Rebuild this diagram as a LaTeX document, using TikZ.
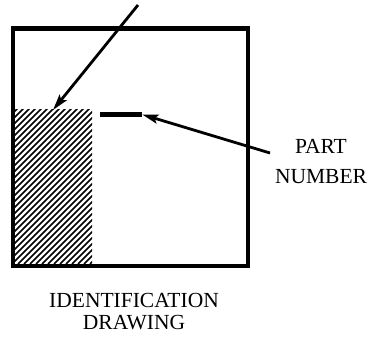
\documentclass[tikz,border=0pt]{standalone}
\usepackage{fontspec}
\setmainfont{Liberation Serif}
\usetikzlibrary{arrows.meta}
\begin{document}
\begin{tikzpicture}[x=1pt,y=-1pt,
  frame/.style={draw, line width=4.5pt, inner sep=0pt, minimum width=235pt, minimum height=237.5pt},
  leader/.style={line width=2.8pt, -{Stealth[length=16pt,width=9pt,inset=3pt]}},
  hatchline/.style={line width=1.6pt},
  bar/.style={fill, inner sep=0pt, minimum width=42pt, minimum height=5pt},
  lbl/.style={font=\fontsize{21.5}{24}\selectfont, inner sep=0pt, anchor=base}]
\useasboundingbox (0,0) rectangle (373,339);
% hatched area
\begin{scope}
  \clip (15,110) rectangle (92,264);
  \foreach \i in {-28,...,18} \draw[hatchline] (\i*6,264) -- ++(200,-200);
\end{scope}
\coordinate (hatchtop) at (53,110);
% frame
\node[frame] (frame) at (130.5,147.25) {};
% part number bar
\node[bar] (bar) at (121,114.5) {};
% labels
\node[lbl] (pn1) at (321,154) {PART};
\node[lbl] (pn2) at (321,184) {NUMBER};
\node[lbl] (id1) at (134,308) {IDENTIFICATION};
\node[lbl] (id2) at (134,330) {DRAWING};
% leaders
\coordinate (idstart) at (138,5);
\coordinate (pnstart) at (270,153);
\draw[leader] (idstart) -- (hatchtop);
\draw[leader] (pnstart) -- (bar.east);
\end{tikzpicture}
\end{document}
